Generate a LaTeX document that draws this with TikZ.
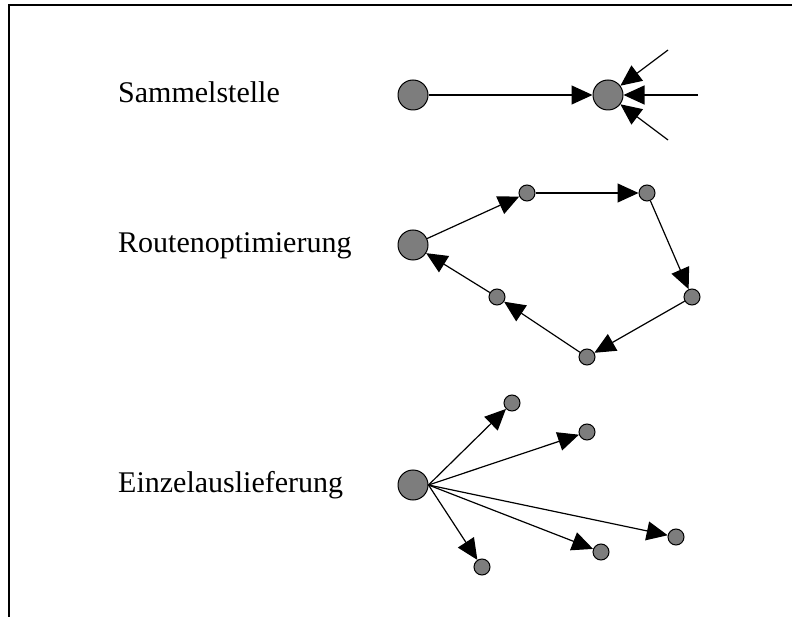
\documentclass[tikz,border=0pt]{standalone}
\usepackage{fontspec}
\setmainfont{Liberation Serif}
\usetikzlibrary{arrows.meta}
\begin{document}
\begin{tikzpicture}[x=1pt,y=-1pt,
  big/.style={circle,draw=black,fill=gray!98!black,line width=1pt,minimum size=30pt,inner sep=0pt},
  small/.style={circle,draw=black,fill=gray!98!black,line width=1pt,minimum size=16pt,inner sep=0pt},
  arr/.style={line width=1.2pt,-{Triangle[length=21pt,width=19pt]}},
  lbl/.style={anchor=base west,inner sep=0pt,font=\fontsize{30}{36}\selectfont}]
\useasboundingbox (0,0) rectangle (792,617);
\draw[line width=2pt] (9,617) -- (9,5) -- (792,5);
% Sammelstelle
\node[lbl] (t1) at (118,103) {Sammelstelle};
\node[big] (s1) at (413,95) {};
\node[big] (s2) at (608,95) {};
\coordinate (i1) at (668,50);
\coordinate (i2) at (698,95);
\coordinate (i3) at (668,140);
\draw[arr] (s1) -- (s2);
\draw[arr] (i1) -- (s2);
\draw[arr] (i2) -- (s2);
\draw[arr] (i3) -- (s2);
% Routenoptimierung
\node[lbl] (t2) at (118,253) {Routenoptimierung};
\node[big] (r0) at (413,245) {};
\node[small] (ra) at (527,193) {};
\node[small] (rb) at (647,193) {};
\node[small] (rc) at (692,297) {};
\node[small] (rd) at (587,357) {};
\node[small] (re) at (497,297) {};
\draw[arr] (r0) -- (ra);
\draw[arr] (ra) -- (rb);
\draw[arr] (rb) -- (rc);
\draw[arr] (rc) -- (rd);
\draw[arr] (rd) -- (re);
\draw[arr] (re) -- (r0);
% Einzelauslieferung
\node[lbl] (t3) at (118,492) {Einzelauslieferung};
\node[big] (e0) at (413,485) {};
\node[small] (ea) at (512,403) {};
\node[small] (eb) at (587,432) {};
\node[small] (ec) at (676,537) {};
\node[small] (ed) at (601,552) {};
\node[small] (ee) at (482,567) {};
\draw[arr] (e0.east) -- (ea);
\draw[arr] (e0.east) -- (eb);
\draw[arr] (e0.east) -- (ec);
\draw[arr] (e0.east) -- (ed);
\draw[arr] (e0.east) -- (ee);
\end{tikzpicture}
\end{document}
